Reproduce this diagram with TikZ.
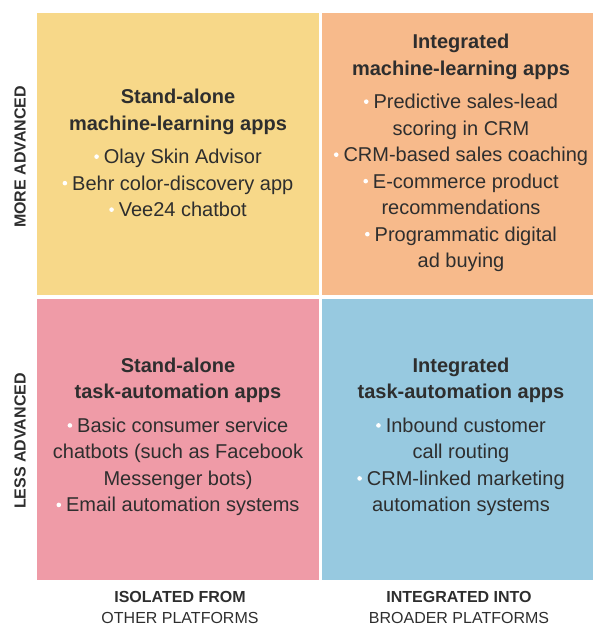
\documentclass[tikz,border=0pt]{standalone}
\usepackage{fontspec}
\setmainfont{Liberation Sans}

\definecolor{mlyellow}{HTML}{F7D889}
\definecolor{mlorange}{HTML}{F7BA8B}
\definecolor{tapink}{HTML}{EF9BA7}
\definecolor{tablue}{HTML}{97C9E0}
\definecolor{inktext}{HTML}{2E2E2E}

\newcommand{\bul}{\tikz[baseline=-7pt, x=1pt, y=1pt]\fill[white] (0,0) circle[radius=2.3pt];\hspace{5pt}}

\tikzset{
  quadtext/.style={align=center, text=inktext, inner sep=0pt,
    font=\fontsize{20}{26.5}\selectfont},
  axislabel/.style={align=center, text=inktext, inner sep=0pt,
    font=\fontsize{16}{21}\selectfont},
}

\begin{document}
\begin{tikzpicture}[x=1pt, y=-1pt]
\useasboundingbox (0,0) rectangle (593,626);

% Draw quadrants.
\fill[mlyellow] (37,13) rectangle (319,295);
\fill[mlorange] (322,13) rectangle (593,295);
\fill[tapink] (37,299) rectangle (319,580);
\fill[tablue] (322,299) rectangle (593,580);

% Draw quadrant texts.
\node[quadtext] (standml) at (178,153)
  {\textbf{Stand-alone}\\ \textbf{machine-learning apps}\\[7pt]
   \bul Olay Skin Advisor\\ \bul Behr color-discovery app\\ \bul Vee24 chatbot};
\node[quadtext] (integml) at (461,153)
  {\textbf{Integrated}\\ \textbf{machine-learning apps}\\[7pt]
   \bul Predictive sales-lead\\ scoring in CRM\\ \bul CRM-based sales coaching\\
   \bul E-commerce product\\ recommendations\\ \bul Programmatic digital\\ ad buying};
\node[quadtext] (standta) at (178,437)
  {\textbf{Stand-alone}\\ \textbf{task-automation apps}\\[7pt]
   \bul Basic consumer service\\ chatbots (such as Facebook\\ Messenger bots)\\
   \bul Email automation systems};
\node[quadtext] (integta) at (461,437)
  {\textbf{Integrated}\\ \textbf{task-automation apps}\\[7pt]
   \bul Inbound customer\\ call routing\\ \bul CRM-linked marketing\\ automation systems};

% Draw axis labels.
\node[axislabel, rotate=90] (more) at (20,157) {\textbf{MORE ADVANCED}};
\node[axislabel, rotate=90] (less) at (20,441) {\textbf{LESS ADVANCED}};
\node[axislabel] (isolated) at (180,607) {\textbf{ISOLATED FROM}\\ OTHER PLATFORMS};
\node[axislabel] (integrated) at (459,607) {\textbf{INTEGRATED INTO}\\ BROADER PLATFORMS};

\end{tikzpicture}
\end{document}
